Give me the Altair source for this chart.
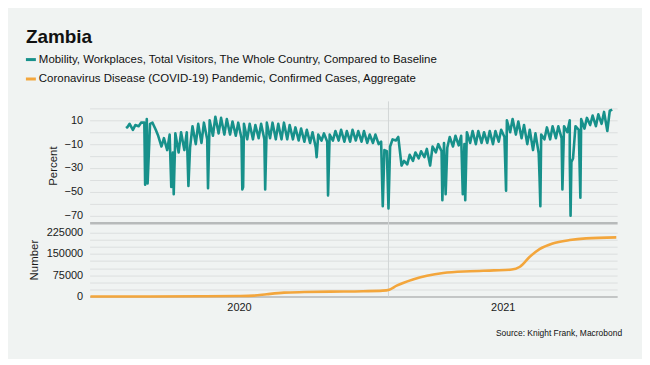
import altair as alt
import pandas as pd

# ---------------- text & style constants ----------------
TITLE = "Zambia"
SERIES = [
    "Mobility, Workplaces, Total Visitors, The Whole Country, Compared to Baseline",
    "Coronavirus Disease (COVID-19) Pandemic, Confirmed Cases, Aggregate",
]
COLORS = ["#17918b", "#f3a63c"]
SOURCE = "Source: Knight Frank, Macrobond"
FONT = "Liberation Sans"
BG = "#f0f3f2"
GRID = "#dcdfdf"
AXIS_GRAY = "#b7baba"

# ---------------- mobility (percent vs baseline) ----------------
first_sunday = "2020-02-16"
# weekly low (Sunday) readings
trough_vals = [
    4, 2, 5, 8, 7, 2, -12, -15, -17, -17,
    -15, -13, -10, -9, -6, -3, -1, -2, -2, -3,
    -5, -6, -6, -5, -6, -5, -6, -6, -6, -6,
    -7, -8, -9, -13, -7, -8, -7, -7, -8, -8,
    -7, -8, -9, -9, -10, -15, -12, -7, -28, -27,
    -24, -22, -21, -28, -17, -16, -13, -12, -11, -10,
    -9, -10, -9, -9, -10, -8, -4, 0, -2, -5,
    -10, -15, -18, -6, -6, -5, -5, 0, -22, 2,
    3, 6, 5, 7, 1,
]
# weekly high (Wednesday) readings
peak_vals = [
    7, 6, 8, 11, 8, -3, -5, -2, -1, 0,
    0, 5, 7, 8, 10, 13, 12, 11, 9, 8,
    7, 7, 6, 7, 8, 8, 7, 8, 6, 4,
    3, 2, 0, -2, -1, -2, 1, 2, 1, 2,
    1, 1, -2, -2, -8, -16, -6, -4, -24, -19,
    -17, -16, -14, -12, -10, -9, -4, -3, -3, 0,
    1, 1, 0, 1, 1, 2, 10, 11, 9, 6,
    2, -1, -2, 4, 5, 5, 5, 10, 5, 11,
    12, 14, 15, 17, 18,
]
# holiday / special-day readings
hol_dates = [
    "2020-02-15", "2020-03-09", "2020-03-12", "2020-04-10", "2020-04-13",
    "2020-05-01", "2020-05-25", "2020-07-06", "2020-07-07", "2020-08-03",
    "2020-10-05", "2020-10-19", "2020-12-25", "2021-01-01", "2021-03-08",
    "2021-03-12", "2021-04-02", "2021-04-05", "2021-05-25", "2021-07-05",
    "2021-07-06", "2021-08-02", "2021-08-11", "2021-08-12", "2021-08-13",
    "2021-08-24", "2021-10-02",
]
hol_vals = [
    5, -44, -43, -46, -52,
    -45, -47, -48, -46, -48,
    -21, -53, -62, -64, -57,
    -52, -52, -57, -49, -38,
    -62, -48, -22, -70, -25,
    -55, 19,
]

# ---------------- confirmed cases (aggregate) ----------------
case_dates = [
    "2020-01-02", "2020-03-15", "2020-05-15", "2020-07-01", "2020-07-20",
    "2020-08-05", "2020-08-26", "2020-09-20", "2020-10-22", "2020-12-01",
    "2020-12-25", "2021-01-02", "2021-01-11", "2021-01-31", "2021-02-17",
    "2021-03-09", "2021-04-11", "2021-05-10", "2021-06-01", "2021-06-11",
    "2021-06-23", "2021-07-05", "2021-07-21", "2021-08-11", "2021-08-31",
    "2021-10-07",
]
case_vals = [
    0, 0, 700, 1700, 3000,
    8000, 13500, 15500, 17000, 18500,
    20500, 24000, 38000, 60000, 73000,
    83000, 89000, 92000, 95000, 105000,
    140000, 167000, 187000, 199000, 205000,
    208500,
]

# ---------------- axes ----------------
pct_ticks = list(range(-70, 21, 10))
num_ticks = list(range(0, 225001, 25000))
year_label_dates = [(2020, 7, 2), (2021, 5, 21)]
year_line = ["2021-01-01"]

# ---------------- build tables ----------------
sundays = pd.date_range(first_sunday, periods=len(trough_vals), freq="7D")
weds = sundays + pd.Timedelta(days=3)
mob = pd.concat([
    pd.DataFrame({"date": sundays, "value": trough_vals}),
    pd.DataFrame({"date": weds[:len(peak_vals)], "value": peak_vals}),
    pd.DataFrame({"date": pd.to_datetime(hol_dates), "value": hol_vals}),
]).sort_values("date").reset_index(drop=True)

cases = pd.DataFrame({"date": pd.to_datetime(case_dates), "value": case_vals})
vline = pd.DataFrame({"date": pd.to_datetime(year_line)})
one = pd.DataFrame({"k": [0]})

x_scale = alt.Scale(domain=[alt.DateTime(year=2020, month=1, date=1),
                            alt.DateTime(year=2021, month=10, date=8)])

TOP_H = 115
BOT_H = 74
W = 530

# ---------------- top panel ----------------
x_top = alt.X("date:T", scale=x_scale,
              axis=alt.Axis(title=None, labels=False, ticks=False, grid=False,
                            domain=True, domainColor=AXIS_GRAY, domainWidth=2.5))
y_top = alt.Y("value:Q", scale=alt.Scale(domain=[-76, 20], nice=False, zero=False),
              axis=alt.Axis(title="Percent", values=pct_ticks,
                            labelExpr="datum.value % 20 != 0 ? datum.label : ''",
                            grid=True, gridColor=GRID, ticks=False, domain=False,
                            labelPadding=7, titlePadding=6))

mob_line = alt.Chart(mob).mark_line(color=COLORS[0], strokeWidth=2.6,
                                    strokeJoin="round").encode(x=x_top, y=y_top)
vrule_top = alt.Chart(vline).mark_rule(color="#d2d6d6", strokeWidth=1).encode(
    x=alt.X("date:T", scale=x_scale), y=alt.value(-7), y2=alt.value(TOP_H))

title_txt = alt.Chart(one).mark_text(
    text=TITLE, align="left", baseline="alphabetic", fontSize=19,
    fontWeight="bold", font=FONT, color="#111111"
).encode(x=alt.value(-64), y=alt.value(-66))

legend_layers = []
for i, (name, col) in enumerate(zip(SERIES, COLORS)):
    yy = -49 + i * 19.5
    legend_layers.append(alt.Chart(one).mark_rule(strokeWidth=3, color=col).encode(
        x=alt.value(-64), x2=alt.value(-54), y=alt.value(yy)))
    legend_layers.append(alt.Chart(one).mark_text(
        text=name, align="left", baseline="middle", fontSize=11.5, font=FONT,
        color="#111111").encode(x=alt.value(-51), y=alt.value(yy)))

top = alt.layer(vrule_top, mob_line, title_txt, *legend_layers).properties(
    width=W, height=TOP_H)

# ---------------- bottom panel ----------------
x_bot = alt.X("date:T", scale=x_scale,
              axis=alt.Axis(title=None, values=[alt.DateTime(year=y, month=m, date=d)
                                                for (y, m, d) in year_label_dates],
                            format="%Y", ticks=False, grid=False, domain=True,
                            domainColor=AXIS_GRAY, domainWidth=1.5, labelPadding=5,
                            labelFontSize=11))
y_bot = alt.Y("value:Q", scale=alt.Scale(domain=[0, 260000], nice=False),
              axis=alt.Axis(title="Number", values=num_ticks, format="d",
                            labelExpr="datum.value % 75000 == 0 ? datum.label : ''",
                            grid=True, gridColor=GRID, ticks=False, domain=False,
                            labelPadding=7, titlePadding=7))

case_line = alt.Chart(cases).mark_line(color=COLORS[1], strokeWidth=2.6,
                                       interpolate="monotone").encode(x=x_bot, y=y_bot)
vrule_bot = alt.Chart(vline).mark_rule(color="#d2d6d6", strokeWidth=1).encode(
    x=alt.X("date:T", scale=x_scale), y=alt.value(0), y2=alt.value(BOT_H))
source_txt = alt.Chart(one).mark_text(
    text=SOURCE, align="right", baseline="middle", fontSize=8.5, font=FONT,
    color="#111111"
).encode(x=alt.value(535), y=alt.value(111))

bottom = alt.layer(vrule_bot, case_line, source_txt).properties(width=W, height=BOT_H)

chart = alt.vconcat(top, bottom, spacing=0, bounds="flush").configure(
    background=BG, font=FONT,
    padding={"left": 16, "top": 19, "right": 20, "bottom": 20},
).configure_view(stroke=None).configure_axis(
    labelFont=FONT, titleFont=FONT, labelFontSize=11, titleFontSize=11.5,
    titleFontWeight="normal", labelColor="#1a1a1a", titleColor="#1a1a1a",
)

chart.save("out.html", embed_options={"renderer": "svg", "actions": False})
